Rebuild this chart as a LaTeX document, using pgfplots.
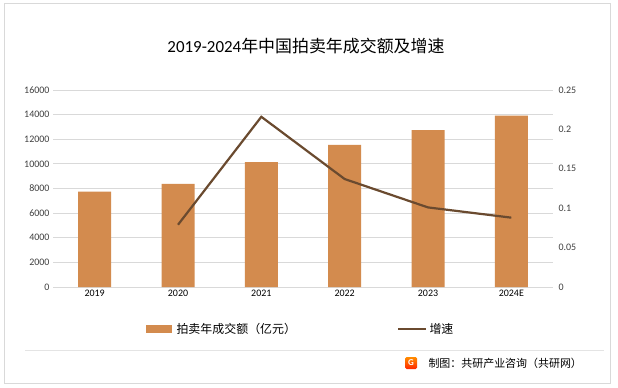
\documentclass[border=0pt]{standalone}
\usepackage{pgfplots}
\pgfplotsset{compat=1.18}
\usepackage{fontspec}
\setmainfont{Carlito}
\newfontfamily\cjk{Noto Sans CJK SC}
\definecolor{barc}{HTML}{D38B4E}
\definecolor{linec}{HTML}{6A4A2F}
\definecolor{gridc}{HTML}{D9D9D9}
\definecolor{tickc}{HTML}{404040}
\begin{document}
\begin{tikzpicture}[x=1bp,y=1bp]
\useasboundingbox (0,0) rectangle (618,387);
\fill[white] (0,0) rectangle (618,387);
\draw[gridc, line width=1bp] (4,4) rectangle (610,383);
\draw[gridc!70, line width=0.8bp] (25,37) -- (604,37);
\node[anchor=center, font=\fontsize{17}{20}\selectfont] at (306,341) {2019-2024\cjk{年中国拍卖年成交额及增速}};
\begin{axis}[
  at={(53bp,100bp)}, anchor=south west,
  scale only axis, width=500bp, height=197bp,
  xmin=-0.5, xmax=5.5, ymin=0, ymax=16000,
  xtick={0,1,2,3,4,5},
  xticklabels={2019,2020,2021,2022,2023,2024E},
  ytick={0,2000,...,16000},
  axis line style={draw=none},
  axis y line*=left,
  axis x line*=bottom,
  major tick length=0pt,
  ymajorgrids, grid style={gridc, line width=0.8bp},
  tick label style={font=\fontsize{10}{12}\selectfont, text=black},
  yticklabel style={text=tickc},
  /pgf/number format/assume math mode=true,
  /pgf/number format/1000 sep={},
  scaled y ticks=false,
  ybar, bar width=33bp,
  clip=false,
]
\addplot[fill=barc, draw=none] coordinates {(0,7750) (1,8370) (2,10150) (3,11540) (4,12750) (5,13920)};
\end{axis}
\begin{axis}[
  at={(53bp,100bp)}, anchor=south west,
  scale only axis, width=500bp, height=197bp,
  xmin=-0.5, xmax=5.5, ymin=0, ymax=0.25,
  axis y line*=right, axis x line=none,
  axis line style={draw=none},
  major tick length=0pt,
  ytick={0,0.05,...,0.25},
  yticklabels={0,0.05,0.1,0.15,0.2,0.25},
  yticklabel style={font=\fontsize{10}{12}\selectfont, text=tickc, anchor=west, xshift=2bp},
  /pgf/number format/assume math mode=true,
  clip=false,
]
\addplot[linec, line width=2.2bp, mark=none] coordinates {(1,0.079) (2,0.216) (3,0.137) (4,0.101) (5,0.088)};
\end{axis}
% legend
\fill[barc] (146,54) rectangle (172,62);
\node[anchor=west, font=\cjk\fontsize{12}{14}\selectfont] at (173,58) {拍卖年成交额（亿元）};
\draw[linec, line width=2.2bp] (398,58) -- (426,58);
\node[anchor=west, font=\cjk\fontsize{12}{14}\selectfont] at (426,58) {增速};
% source
\shade[top color=orange!90!yellow, bottom color=red!70!orange, rounded corners=1.5bp] (405,18) rectangle (417,30);
\node[white, font=\bfseries\fontsize{9}{9}\selectfont] at (411,24) {G};
\node[anchor=west, font=\cjk\fontsize{11}{13}\selectfont] at (425,24) {制图：共研产业咨询（共研网）};
\end{tikzpicture}
\end{document}
